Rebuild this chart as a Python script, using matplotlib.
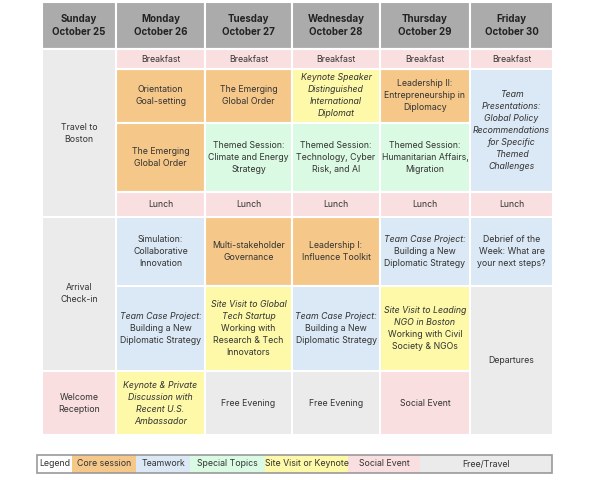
import matplotlib.pyplot as plt
from matplotlib.patches import Rectangle

plt.rcParams['font.family'] = ['Inter', 'DejaVu Sans']

# colours per category
colors = {
    'head': '#ababab', 'core': '#f5c88a', 'team': '#dbe8f5', 'special': '#dafae3',
    'site': '#fdf9a8', 'social': '#fadfe1', 'free': '#ebebeb',
}

days = ['Sunday\nOctober 25', 'Monday\nOctober 26', 'Tuesday\nOctober 27',
        'Wednesday\nOctober 28', 'Thursday\nOctober 29', 'Friday\nOctober 30']

# column edges and row edges (pixels)
col_x = [42, 116, 205, 292, 380, 470, 553]
row_y = [2, 49, 69, 123, 192, 217, 286, 371, 435]

# cells: (col, row_start, row_end, category, [(text, italic), ...])
cells = [
    (0, 1, 5, 'free', [('Travel to\nBoston', False)]),
    (0, 5, 7, 'free', [('Arrival\nCheck-in', False)]),
    (0, 7, 8, 'social', [('Welcome\nReception', False)]),
    (5, 2, 4, 'team', [('Team\nPresentations:\nGlobal Policy\nRecommendations\nfor Specific\nThemed\nChallenges', True)]),
    (5, 5, 6, 'team', [('Debrief of the\nWeek: What are\nyour next steps?', False)]),
    (5, 6, 8, 'free', [('Departures', False)]),
    (1, 2, 3, 'core', [('Orientation\nGoal-setting', False)]),
    (2, 2, 3, 'core', [('The Emerging\nGlobal Order', False)]),
    (3, 2, 3, 'site', [('Keynote Speaker\nDistinguished\nInternational\nDiplomat', True)]),
    (4, 2, 3, 'core', [('Leadership II:\nEntrepreneurship in\nDiplomacy', False)]),
    (1, 3, 4, 'core', [('The Emerging\nGlobal Order', False)]),
    (2, 3, 4, 'special', [('Themed Session:\nClimate and Energy\nStrategy', False)]),
    (3, 3, 4, 'special', [('Themed Session:\nTechnology, Cyber\nRisk, and AI', False)]),
    (4, 3, 4, 'special', [('Themed Session:\nHumanitarian Affairs,\nMigration', False)]),
    (1, 5, 6, 'team', [('Simulation:\nCollaborative\nInnovation', False)]),
    (2, 5, 6, 'core', [('Multi-stakeholder\nGovernance', False)]),
    (3, 5, 6, 'core', [('Leadership I:\nInfluence Toolkit', False)]),
    (4, 5, 6, 'team', [('Team Case Project:', True), ('Building a New\nDiplomatic Strategy', False)]),
    (1, 6, 7, 'team', [('Team Case Project:', True), ('Building a New\nDiplomatic Strategy', False)]),
    (2, 6, 7, 'site', [('Site Visit to Global\nTech Startup', True), ('Working with\nResearch & Tech\nInnovators', False)]),
    (3, 6, 7, 'team', [('Team Case Project:', True), ('Building a New\nDiplomatic Strategy', False)]),
    (4, 6, 7, 'site', [('Site Visit to Leading\nNGO in Boston', True), ('Working with Civil\nSociety & NGOs', False)]),
    (1, 7, 8, 'site', [('Keynote & Private\nDiscussion with\nRecent U.S.\nAmbassador', True)]),
    (2, 7, 8, 'free', [('Free Evening', False)]),
    (3, 7, 8, 'free', [('Free Evening', False)]),
    (4, 7, 8, 'social', [('Social Event', False)]),
]
for c in range(1, 6):
    cells.append((c, 1, 2, 'social', [('Breakfast', False)]))
    cells.append((c, 4, 5, 'social', [('Lunch', False)]))

legend_labels = ['Legend', 'Core session', 'Teamwork', 'Special Topics',
                 'Site Visit or Keynote', 'Social Event', 'Free/Travel']
legend_keys = [None, 'core', 'team', 'special', 'site', 'social', 'free']
legend_x = [37, 72, 136, 190, 265, 348, 420, 552]

fig = plt.figure(figsize=(5.89, 4.8), dpi=100)
ax = fig.add_axes([0, 0, 1, 1])
ax.set_xlim(0, 589)
ax.set_ylim(480, 0)
ax.axis('off')

fs = 6.3
line_h = 12.0

# header
for i, d in enumerate(days):
    x0, x1 = col_x[i], col_x[i + 1]
    ax.add_patch(Rectangle((x0, row_y[0]), x1 - x0, row_y[1] - row_y[0],
                           fc=colors['head'], ec='white', lw=1.5))
    ax.text((x0 + x1) / 2, (row_y[0] + row_y[1]) / 2, d, ha='center', va='center',
            fontsize=7, fontweight='bold', linespacing=1.4, color='#222222')

for col, r0, r1, cat, parts in cells:
    x0, x1 = col_x[col], col_x[col + 1]
    y0, y1 = row_y[r0], row_y[r1]
    ax.add_patch(Rectangle((x0, y0), x1 - x0, y1 - y0, fc=colors[cat], ec='white', lw=1.5))
    nlines = sum(p[0].count('\n') + 1 for p in parts)
    y = (y0 + y1) / 2 - (nlines - 1) * line_h / 2
    for txt, it in parts:
        for ln in txt.split('\n'):
            ax.text((x0 + x1) / 2, y, ln, ha='center', va='center', fontsize=fs,
                    style='italic' if it else 'normal', color='#333333')
            y += line_h

# legend
for i, lab in enumerate(legend_labels):
    x0, x1 = legend_x[i], legend_x[i + 1]
    fc = 'white' if legend_keys[i] is None else colors[legend_keys[i]]
    ax.add_patch(Rectangle((x0, 455), x1 - x0, 18, fc=fc, ec='none'))
    ax.text((x0 + x1) / 2, 464, lab, ha='center', va='center', fontsize=fs, color='#333333')
ax.add_patch(Rectangle((37, 455), 515, 18, fc='none', ec='#999999', lw=1.2))

fig.savefig('out.png', dpi=100)
